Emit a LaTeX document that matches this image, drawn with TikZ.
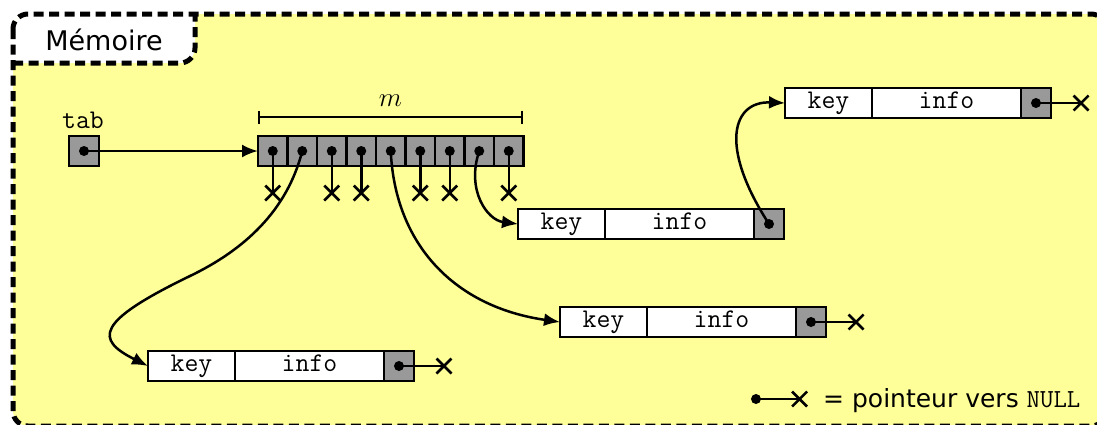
\documentclass[tikz,border=0pt]{standalone}
\usepackage{fix-cm}
\usepackage{fontspec}
\newfontfamily\labelfont{DejaVu Sans}
\usetikzlibrary{arrows.meta,shapes.misc}
\definecolor{memfill}{RGB}{255,255,153}
\definecolor{ptrgray}{RGB}{153,153,153}
\begin{document}
\begin{tikzpicture}[x=1pt,y=-1pt,
  cell/.style={draw, line width=2.4pt, minimum height=30pt, inner sep=0pt, outer sep=0pt,
    font=\fontsize{27}{30}\selectfont\ttfamily, text height=16.5pt, text depth=5.5pt},
  keycell/.style={cell, fill=white, minimum width=87pt},
  infocell/.style={cell, fill=white, minimum width=149pt, anchor=west},
  ptrcell/.style={cell, fill=ptrgray, minimum width=30pt, anchor=west},
  arrcell/.style={cell, fill=ptrgray, minimum width=29.5pt},
  pdot/.style={circle, fill=black, inner sep=0pt, minimum size=10pt},
  nullx/.style={cross out, draw, line width=2.5pt, minimum size=15pt, inner sep=0pt, outer sep=0pt},
  link/.style={line width=2.5pt},
  arr/.style={link, -{Latex[length=16pt,width=13pt]}},
  frame/.style={line width=5pt, dash pattern=on 10pt off 5.5pt},
  ttlab/.style={font=\fontsize{27}{30}\selectfont\ttfamily, inner sep=0pt},
]
\useasboundingbox (0,0) rectangle (1097,424);
\clip (0,0) rectangle (1097,424);

% frame
\fill[memfill, rounded corners=15pt] (13,14) rectangle (1106,426);
\fill[white] (13,63) -- (13,29) arc[start angle=180,end angle=270,radius=15] -- (195,14) -- (195,48) arc[start angle=0,end angle=90,radius=15] -- cycle;
\draw[frame, rounded corners=15pt] (13,14) rectangle (1106,426);
\draw[frame] (13,63) -- (180,63) arc[start angle=90,end angle=0,radius=15] -- (195,14);
\node[font=\labelfont\fontsize{27}{30}\selectfont, anchor=base, inner sep=0pt] (memo) at (104,50) {Mémoire};

% tab
\node[arrcell, minimum width=30pt] (tab) at (84,151) {};
\node[ttlab, anchor=base] (tablbl) at (83,128) {tab};

% array
\foreach \i in {0,...,8} \node[arrcell] (a\i) at ({272.75+29.5*\i},151) {};
\coordinate (mL) at (258,117);
\coordinate (mR) at (523,117);
\draw[line width=1.8pt, {Bar[width=13pt]}-{Bar[width=13pt]}] (mL) -- (mR);
\node[font=\fontsize{27}{30}\selectfont, anchor=base, inner sep=0pt] (mlab) at (390.5,106) {$m$};

% null pointers of the array
\foreach \i in {0,2,3,5,6,8} {
  \node[nullx] (x\i) at ({272.75+29.5*\i},193) {};
  \draw[link] (a\i.center) -- (x\i.center);
}

% list elements
\node[keycell] (Ak) at (191.5,366) {key};
\node[infocell] (Ai) at (Ak.east) {info};
\node[ptrcell] (Ap) at (Ai.east) {};
\node[keycell] (Bk) at (561.5,224) {key};
\node[infocell] (Bi) at (Bk.east) {info};
\node[ptrcell] (Bp) at (Bi.east) {};
\node[keycell] (Ck) at (603.5,322) {key};
\node[infocell] (Ci) at (Ck.east) {info};
\node[ptrcell] (Cp) at (Ci.east) {};
\node[keycell] (Dk) at (828.5,103) {key};
\node[infocell] (Di) at (Dk.east) {info};
\node[ptrcell] (Dp) at (Di.east) {};

\node[nullx] (xA) at ([xshift=45pt]Ap.center) {};
\node[nullx] (xC) at ([xshift=45pt]Cp.center) {};
\node[nullx] (xD) at ([xshift=45pt]Dp.center) {};
\draw[link] (Ap.center) -- (xA.center);
\draw[link] (Cp.center) -- (xC.center);
\draw[link] (Dp.center) -- (xD.center);

% connectors
\draw[arr] (tab.center) -- (a0.west);
\draw[arr] (a1.center) .. controls (287,211) and (244,250) .. (190,276) .. controls (95,322) and (95,339.5) .. (Ak.west);
\draw[arr] (a4.center) .. controls (395,245) and (455,307) .. (Ck.west);
\draw[arr] (a7.center) .. controls (466,190) and (487,220) .. (Bk.west);
\draw[arr] (Bp.center) .. controls (718,145) and (733,101) .. (Dk.west);

% dots
\node[pdot] (dtab) at (tab.center) {};
\foreach \i in {0,...,8} \node[pdot] (d\i) at (a\i.center) {};
\node[pdot] (dA) at (Ap.center) {};
\node[pdot] (dB) at (Bp.center) {};
\node[pdot] (dC) at (Cp.center) {};
\node[pdot] (dD) at (Dp.center) {};

% legend
\node[pdot] (ld) at (756,399) {};
\node[nullx] (lx) at (799.5,399) {};
\draw[link] (ld.center) -- (lx.center);
\node[font=\labelfont\fontsize{25}{30}\selectfont, anchor=base west, inner sep=0pt] (leg) at (823,407) {= pointeur vers {\ttfamily\fontsize{26}{30}\selectfont NULL}};
\end{tikzpicture}
\end{document}
